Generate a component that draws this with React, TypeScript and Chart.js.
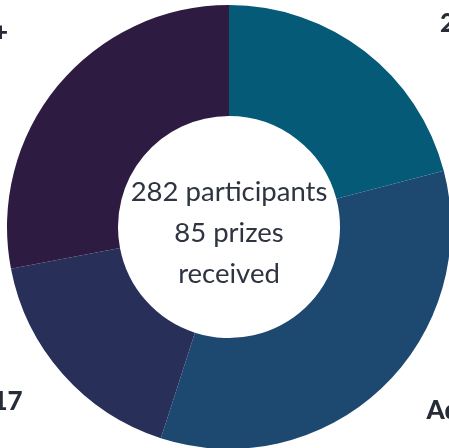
import React, { useEffect, useRef } from "react";
import { Chart, registerables } from "chart.js";

Chart.register(...registerables);

const categories = ["25-39", "Adults 40-64", "Under 17", "65+"];
const participants = [59, 96, 48, 79];
const sliceColors = ["#055a78", "#1d4870", "#28305a", "#2d1b42"];
const prizesReceived = 85;

const labelPlugin = {
  id: "cornerLabels",
  afterDraw(chart: any) {
    const ctx = chart.ctx;
    const meta = chart.getDatasetMeta(0);
    ctx.save();
    ctx.fillStyle = "#272d36";
    ctx.font = "900 26px Lato";
    ctx.textBaseline = "alphabetic";
    meta.data.forEach((arc: any, i: number) => {
      const p = arc.getProps(["x", "y", "startAngle", "endAngle", "outerRadius"], true);
      const mid = (p.startAngle + p.endAngle) / 2;
      const right = Math.cos(mid) >= 0;
      const bottom = Math.sin(mid) >= 0;
      ctx.textAlign = right ? "left" : "right";
      let fx: number;
      let fy: number;
      if (right && !bottom) { fx = 0.95; fy = -0.878; }
      else if (right && bottom) { fx = 0.89; fy = 0.865; }
      else if (!right && bottom) { fx = -0.93; fy = 0.824; }
      else { fx = -0.995; fy = -0.84; }
      ctx.fillText(categories[i], p.x + fx * p.outerRadius, p.y + fy * p.outerRadius);
    });
    ctx.restore();
  },
};

const centerPlugin = {
  id: "centerText",
  afterDraw(chart: any) {
    const ctx = chart.ctx;
    const arc = chart.getDatasetMeta(0).data[0];
    if (!arc) return;
    const { x, y, innerRadius } = arc.getProps(["x", "y", "innerRadius"], true);
    const total = participants.reduce((a, b) => a + b, 0);
    const lines = [`${total} participants`, `${prizesReceived} prizes`, "received"];
    ctx.save();
    ctx.fillStyle = "#2e3541";
    ctx.font = "400 27.5px Lato";
    ctx.textAlign = "center";
    ctx.textBaseline = "alphabetic";
    const step = innerRadius * 0.37;
    lines.forEach((t, i) => {
      ctx.fillText(t, x, y + (i - 1) * step + innerRadius * 0.135);
    });
    ctx.restore();
  },
};

export default function App() {
  const ref = useRef<HTMLCanvasElement>(null);
  useEffect(() => {
    if (!ref.current) return;
    const chart = new Chart(ref.current, {
      type: "doughnut",
      data: {
        labels: categories,
        datasets: [
          {
            data: participants,
            backgroundColor: sliceColors,
            borderWidth: 0,
          },
        ],
      },
      options: {
        responsive: false,
        animation: false,
        cutout: "50%",
        layout: { padding: 5 },
        plugins: {
          legend: { display: false },
          tooltip: { enabled: false },
        },
      },
      plugins: [labelPlugin, centerPlugin],
    });
    return () => chart.destroy();
  }, []);
  return (
    <div
      style={{
        position: "fixed",
        left: 0,
        top: 0,
        width: 449,
        height: 448,
        overflow: "hidden",
        background: "#ffffff",
      }}
    >
      <canvas ref={ref} width={458} height={454} style={{ display: "block" }} />
    </div>
  );
}
